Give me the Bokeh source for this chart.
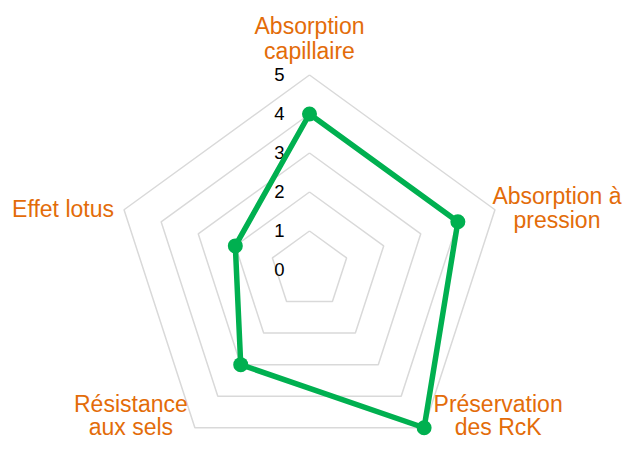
import math
from bokeh.plotting import figure
from bokeh.models import Range1d, ColumnDataSource
from bokeh.core.properties import value
from bokeh.embed import file_html
from bokeh.resources import INLINE

# ---- data ----
categories = ["Absorption\ncapillaire", "Absorption à\npression", "Préservation\ndes RcK",
              "Résistance\naux sels", "Effet lotus"]
scores = [4, 4, 5, 3, 2]
tick_values = [0, 1, 2, 3, 4, 5]
r_max = 5

# ---- layout / style ----
W, H = 623, 441
px_per_unit = 39.0
cx_px, cy_px = 309.0, 269.5  # centre of the radar in canvas pixels (from top-left)
GREEN = "#00B050"
ORANGE = "#E36C09"
GRID = "#D9D9D9"
FONT = "Liberation Sans"

n = len(categories)
angles = [math.pi / 2 - 2 * math.pi * i / n for i in range(n)]

p = figure(width=W, height=H, output_backend="svg", toolbar_location=None,
           x_range=Range1d(-cx_px / px_per_unit, (W - cx_px) / px_per_unit),
           y_range=Range1d(-(H - cy_px) / px_per_unit, cy_px / px_per_unit),
           min_border=0)
p.axis.visible = False
p.grid.visible = False
p.outline_line_color = None
p.background_fill_color = "white"
p.border_fill_color = "white"

# grid pentagons
gx, gy = [], []
for r in tick_values[1:]:
    gx.append([r * math.cos(a) for a in angles] + [r * math.cos(angles[0])])
    gy.append([r * math.sin(a) for a in angles] + [r * math.sin(angles[0])])
p.multi_line(gx, gy, line_color=GRID, line_width=1.5)

# tick labels
p.text(x=[0] * len(tick_values), y=tick_values, text=[str(t) for t in tick_values],
       x_offset=-25, y_offset=-1, text_align="right", text_baseline="middle",
       text_font=value(FONT), text_font_size="18.5px", text_color="black")

# data series
xs = [v * math.cos(a) for v, a in zip(scores, angles)]
ys = [v * math.sin(a) for v, a in zip(scores, angles)]
p.line(xs + [xs[0]], ys + [ys[0]], line_color=GREEN, line_width=5.5, line_join="round")
p.scatter(xs, ys, size=15, fill_color=GREEN, line_color=None)

# category labels: (x offset px, first-line offset px, line gap) relative to the outer vertex
label_offsets = [(0, -49, 25), (62, -14, 24), (74, -24, 23), (-64, -24, 23), (-61, -1, 25)]
lx, ly, lt, xo, yo = [], [], [], [], []
for cat, a, (dx, dy, gap) in zip(categories, angles, label_offsets):
    for k, line in enumerate(cat.split("\n")):
        lx.append(r_max * math.cos(a))
        ly.append(r_max * math.sin(a))
        lt.append(line)
        xo.append(dx)
        yo.append(dy + k * gap)
src = ColumnDataSource(dict(x=lx, y=ly, text=lt, xo=xo, yo=yo))
p.text(x="x", y="y", text="text", x_offset="xo", y_offset="yo", source=src,
       text_align="center", text_baseline="alphabetic",
       text_font=value(FONT), text_font_size="23px", text_color=ORANGE)

open("out.html", "w").write(file_html(p, INLINE))
